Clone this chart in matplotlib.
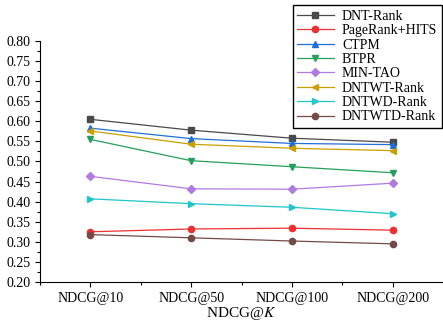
import matplotlib
matplotlib.use("Agg")
import matplotlib.pyplot as plt
from matplotlib.ticker import MultipleLocator

plt.rcParams['font.family'] = 'Liberation Serif'
plt.rcParams['mathtext.fontset'] = 'stix'

# data
metrics = ["NDCG@10", "NDCG@50", "NDCG@100", "NDCG@200"]
dnt_rank = [0.605, 0.578, 0.558, 0.548]
pagerank_hits = [0.325, 0.332, 0.334, 0.329]
ctpm = [0.583, 0.557, 0.545, 0.542]
btpr = [0.555, 0.502, 0.487, 0.472]
min_tao = [0.463, 0.432, 0.431, 0.446]
dntwt_rank = [0.576, 0.543, 0.533, 0.527]
dntwd_rank = [0.407, 0.395, 0.386, 0.370]
dntwtd_rank = [0.318, 0.310, 0.302, 0.295]

series = [
    ("DNT-Rank", dnt_rank, "#4a4a4a", "s"),
    ("PageRank+HITS", pagerank_hits, "#ee3030", "o"),
    ("CTPM", ctpm, "#1f6fd8", "^"),
    ("BTPR", btpr, "#24a05a", "v"),
    ("MIN-TAO", min_tao, "#b07be0", "D"),
    ("DNTWT-Rank", dntwt_rank, "#c9a000", "<"),
    ("DNTWD-Rank", dntwd_rank, "#1ec6cc", ">"),
    ("DNTWTD-Rank", dntwtd_rank, "#744a48", "o"),
]

fig = plt.figure(figsize=(4.43, 3.25), dpi=100)
ax = fig.add_axes([40 / 443, 1 - 282 / 325, 1 - 40 / 443, (282 - 41) / 325])

x = list(range(len(metrics)))
for name, vals, color, marker in series:
    ms = 3.8 if marker == "D" else 4.5
    ax.plot(x, vals, color=color, marker=marker, markersize=ms, linewidth=0.9,
            label=name)

ax.set_xlim(-0.5, 3.5)
ax.set_ylim(0.2, 0.8)
ax.set_xticks(x)
ax.set_xticklabels(metrics)
ax.xaxis.set_minor_locator(MultipleLocator(0.5))
ax.yaxis.set_major_locator(MultipleLocator(0.05))
ax.yaxis.set_minor_locator(MultipleLocator(0.025))
ax.yaxis.set_major_formatter(matplotlib.ticker.FormatStrFormatter("%.2f"))
ax.tick_params(which="major", length=3.5, width=0.8, labelsize=10)
ax.tick_params(which="minor", length=2, width=0.8)
ax.spines["top"].set_visible(False)
ax.spines["right"].set_visible(False)
ax.set_xlabel("NDCG@$K$", fontsize=11, labelpad=0)

leg = fig.legend(loc="upper right", bbox_to_anchor=(0.998, 0.985), fontsize=10,
                 frameon=True, fancybox=False, edgecolor="black", framealpha=1,
                 handlelength=2.6, borderpad=0.35, labelspacing=0.1,
                 handletextpad=0.6, borderaxespad=0)
leg.get_frame().set_linewidth(1.0)

fig.savefig("out.png", dpi=100)
